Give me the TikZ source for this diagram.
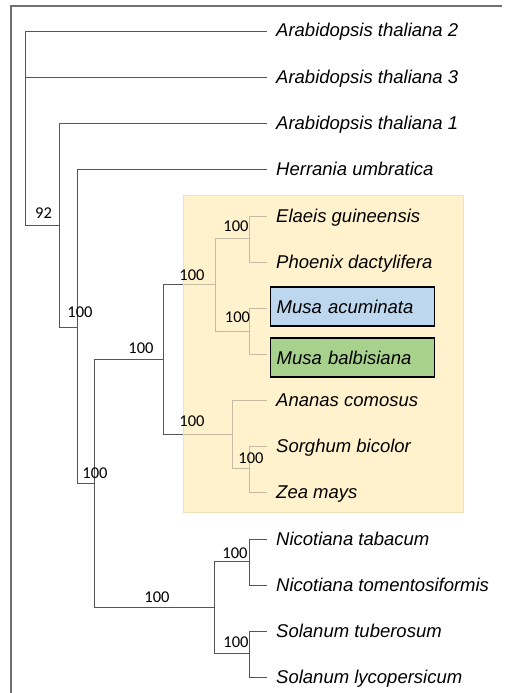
\documentclass[tikz,border=0pt]{standalone}
\usepackage{fontspec}
\setmainfont{Liberation Sans}
\newfontfamily\bsfont{Carlito}
\definecolor{treeline}{HTML}{555555}
\definecolor{framegray}{HTML}{707070}
\definecolor{cladebg}{HTML}{FFF2CC}
\definecolor{cladeedge}{HTML}{F2E2B8}
\definecolor{musablue}{HTML}{BDD7EE}
\definecolor{musagreen}{HTML}{A9D18E}
\tikzset{
  branch/.style={draw=treeline, line width=0.9pt},
  taxon/.style={anchor=base west, inner sep=0pt, font=\fontsize{18.5}{20}\selectfont\itshape},
  boot/.style={anchor=center, inner sep=0pt, font=\bsfont\fontsize{16.5}{18}\selectfont},
  musabox/.style={draw=black, line width=1.3pt, anchor=west, minimum height=39pt,
    inner xsep=6pt, inner ysep=0pt, text width=152pt, font=\fontsize{18.5}{20}\selectfont\itshape},
  framestyle/.style={draw=framegray, line width=1.6pt}
}
\begin{document}
\begin{tikzpicture}[x=1pt,y=-1pt]
\useasboundingbox (0,0) rectangle (507,693);
% frame
\coordinate (fb) at (11,693);
\coordinate (ftl) at (11,6);
\coordinate (ftr) at (502,6);
\draw[framestyle] (fb) -- (ftl) -- (ftr);
% clade background
\fill[cladebg] (183,195) rectangle (463,512);
% tips
\coordinate (tAr2) at (267,31);
\coordinate (tAr3) at (267,77);
\coordinate (tAr1) at (267,123);
\coordinate (tHer) at (267,169);
\coordinate (tEla) at (267,216);
\coordinate (tPho) at (267,262);
\coordinate (tMac) at (267,308);
\coordinate (tMba) at (267,354);
\coordinate (tAna) at (267,400);
\coordinate (tSor) at (267,446);
\coordinate (tZea) at (267,492);
\coordinate (tNta) at (267,539);
\coordinate (tNto) at (267,585);
\coordinate (tStu) at (267,631);
\coordinate (tSly) at (267,677);
% internal nodes
\coordinate (r0) at (25,128);
\coordinate (n1) at (59,225);
\coordinate (n2) at (77,327);
\coordinate (n3) at (94,483);
\coordinate (n4) at (163,359);
\coordinate (n5) at (215,284);
\coordinate (n6) at (249,238);
\coordinate (n7) at (249,331);
\coordinate (n8) at (232,434);
\coordinate (n8b) at (249,468);
\coordinate (n9) at (214,607);
\coordinate (n10) at (249,561);
\coordinate (n11) at (249,653);
% branches
\draw[branch] (r0) |- (tAr2);
\draw[branch] (r0) |- (tAr3);
\draw[branch] (r0) |- (n1);
\draw[branch] (n1) |- (tAr1);
\draw[branch] (n1) |- (n2);
\draw[branch] (n2) |- (tHer);
\draw[branch] (n2) |- (n3);
\draw[branch] (n3) |- (n4);
\draw[branch] (n3) |- (n9);
\draw[branch] (n4) |- (n5);
\draw[branch] (n4) |- (n8);
\draw[branch] (n5) |- (n6);
\draw[branch] (n5) |- (n7);
\draw[branch] (n6) |- (tEla);
\draw[branch] (n6) |- (tPho);
\draw[branch] (n7) |- (tMac);
\draw[branch] (n7) |- (tMba);
\draw[branch] (n8) |- (tAna);
\draw[branch] (n8) |- (n8b);
\draw[branch] (n8b) |- (tSor);
\draw[branch] (n8b) |- (tZea);
\draw[branch] (n9) |- (n10);
\draw[branch] (n9) |- (n11);
\draw[branch] (n10) |- (tNta);
\draw[branch] (n10) |- (tNto);
\draw[branch] (n11) |- (tStu);
\draw[branch] (n11) |- (tSly);
% tint over clade
\fill[cladebg, fill opacity=0.65] (183,195) rectangle (463,512);
\draw[cladeedge, line width=0.6pt] (183,195) rectangle (463,512);
% taxon labels
\node[taxon] (lAr2) at (276,37) {Arabidopsis thaliana 2};
\node[taxon] (lAr3) at (276,83) {Arabidopsis thaliana 3};
\node[taxon] (lAr1) at (276,129) {Arabidopsis thaliana 1};
\node[taxon] (lHer) at (276,175) {Herrania umbratica};
\node[taxon] (lEla) at (276,222) {Elaeis guineensis};
\node[taxon] (lPho) at (276,268) {Phoenix dactylifera};
\node[musabox, fill=musablue] (lMac) at (270,306.5) {Musa acuminata};
\node[musabox, fill=musagreen] (lMba) at (270,357.5) {Musa balbisiana};
\node[taxon] (lAna) at (276,406) {Ananas comosus};
\node[taxon] (lSor) at (276,452) {Sorghum bicolor};
\node[taxon] (lZea) at (276,498) {Zea mays};
\node[taxon] (lNta) at (276,545) {Nicotiana tabacum};
\node[taxon] (lNto) at (276,591) {Nicotiana tomentosiformis};
\node[taxon] (lStu) at (276,637) {Solanum tuberosum};
\node[taxon] (lSly) at (276,683) {Solanum lycopersicum};
% bootstrap values
\node[boot] (b1) at (43.5,213) {92};
\node[boot] (b2) at (80,312) {100};
\node[boot] (b3) at (95,473) {100};
\node[boot] (b4) at (141,348) {100};
\node[boot] (b5) at (192,275) {100};
\node[boot] (b6) at (192,421) {100};
\node[boot] (b7) at (236,226) {100};
\node[boot] (b8) at (237.5,317) {100};
\node[boot] (b9) at (251,458) {100};
\node[boot] (b10) at (157,597) {100};
\node[boot] (b11) at (235,553) {100};
\node[boot] (b12) at (236,642) {100};
\end{tikzpicture}
\end{document}
